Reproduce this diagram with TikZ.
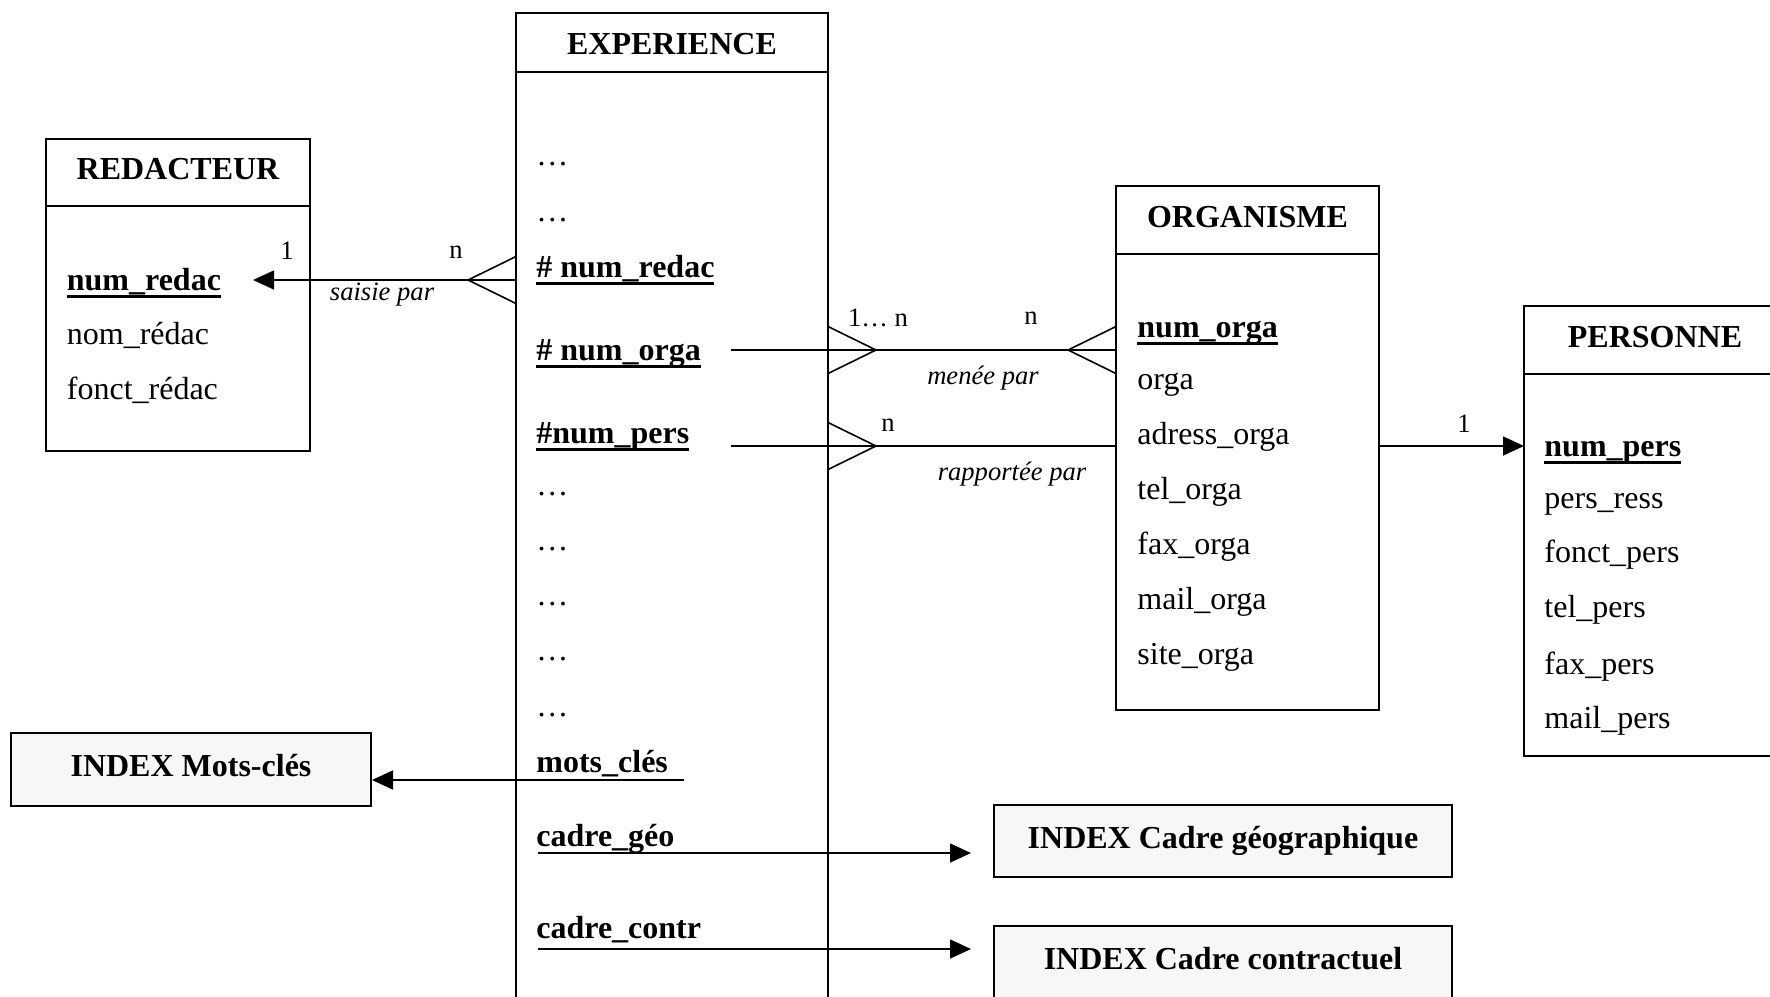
\documentclass[tikz,border=0pt]{standalone}
\usepackage{fontspec}
\setmainfont{Liberation Serif}
\usetikzlibrary{arrows.meta, positioning}
\definecolor{fondidx}{HTML}{F7F7F7}
% cle primaire / etrangere soulignee
\newcommand\cle[1]{\setbox0\hbox{#1}\rlap{\rule[-4pt]{\wd0}{1.4pt}}\box0}

\begin{document}
\begin{tikzpicture}[x=0.5pt, y=-0.5pt]
\tikzset{entete/.style={draw, line width=1pt, inner sep=0pt, outer sep=0pt, font=\fontsize{16}{19}\selectfont\bfseries, text height=11.2pt, text depth=4pt},
		corps/.style={draw, line width=1pt, inner sep=0pt, outer sep=0pt},
		champ/.style={anchor=west, inner sep=0pt, font=\fontsize{16}{19}\selectfont, text height=14.2pt, text depth=4pt},
		champcle/.style={champ, font=\fontsize{16}{19}\selectfont\bfseries},
		etiq/.style={inner sep=0pt, font=\fontsize{13.3}{16}\selectfont},
		etiqit/.style={inner sep=0pt, font=\fontsize{13.3}{16}\selectfont\itshape},
		idxbox/.style={draw, line width=1pt, fill=fondidx, inner sep=0pt, font=\fontsize{16}{19}\selectfont\bfseries, text height=11.2pt, text depth=4pt},
		lien/.style={line width=0.8pt},
		fleche/.style={line width=0.8pt, -{Triangle[length=10.5pt, width=9.5pt]}}}
\useasboundingbox (0,0) rectangle (1770,996);
\clip (0,0) rectangle (1770,996);

% entites
\node[entete, minimum width=132pt, minimum height=33.3pt] (redacH) at (178,172.3) {REDACTEUR};
\node[corps, minimum width=132pt, minimum height=122.5pt, below=0pt of redacH] (redacB) {};
\node[entete, minimum width=156pt, minimum height=29.2pt, text height=15.7pt] (expH) at (672,42.5) {EXPERIENCE};
\node[corps, minimum width=156pt, minimum height=470pt, below=0pt of expH] (expB) {};
\node[entete, minimum width=131.5pt, minimum height=34pt] (orgH) at (1247.5,220) {ORGANISME};
\node[corps, minimum width=131.5pt, minimum height=228pt, below=0pt of orgH] (orgB) {};
\node[entete, minimum width=131pt, minimum height=33.8pt] (persH) at (1655,339.8) {PERSONNE};
\node[corps, minimum width=131pt, minimum height=191.2pt, below=0pt of persH] (persB) {};

% index
\node[idxbox, minimum width=180pt, minimum height=36.5pt] (idxMots) at (191,769.5) {INDEX Mots-clés};
\node[idxbox, minimum width=229pt, minimum height=36pt] (idxGeo) at (1223,841) {INDEX Cadre géographique};
\node[idxbox, minimum width=229pt, minimum height=36pt] (idxContr) at (1223,962) {INDEX Cadre contractuel};

% attributs REDACTEUR
\node[champcle] (rNum) at (66.5,280) {\cle{num\_redac}};
\node[champ] (rNom) at (66.5,334) {nom\_rédac};
\node[champ] (rFonct) at (66.5,389) {fonct\_rédac};

% attributs EXPERIENCE
\foreach \y [count=\i] in {155,211,485,540,595,650,706}
	\node[champ] (eP\i) at (536,\y) {…};
\node[champcle] (eRedac) at (536,267) {\cle{\# num\_redac}};
\node[champcle] (eOrga) at (536,350) {\cle{\# num\_orga}};
\node[champcle] (ePers) at (536,433) {\cle{\#num\_pers}};
\node[champcle] (eMots) at (536,762) {mots\_clés};
\node[champcle] (eGeo) at (536,836) {cadre\_géo};
\node[champcle] (eContr) at (536,928) {cadre\_contr};

% attributs ORGANISME
\node[champcle] (oNum) at (1137,327) {\cle{num\_orga}};
\foreach \t/\y [count=\i] in {orga/379, adress\_orga/434, tel\_orga/489, fax\_orga/544, mail\_orga/599, site\_orga/654}
	\node[champ] (oA\i) at (1137,\y) {\t};

% attributs PERSONNE
\node[champcle] (pNum) at (1544,446) {\cle{num\_pers}};
\foreach \t/\y [count=\i] in {pers\_ress/498, fonct\_pers/552, tel\_pers/607, fax\_pers/664, mail\_pers/718}
	\node[champ] (pA\i) at (1544,\y) {\t};

% saisie par
\draw[fleche] (expB.west |- rNum) -- ([xshift=-28.5pt]redacB.east |- rNum);
\draw[lien] ([yshift=11.75pt]expB.west |- rNum) -- ([xshift=-24pt]expB.west |- rNum) -- ([yshift=-11.75pt]expB.west |- rNum);
\node[etiq] (cardR1) at (287,251) {1};
\node[etiq] (cardR2) at (456,252) {n};
\node[etiqit] (relSaisie) at (382,295) {saisie par};

% menee par
\draw[lien] ([xshift=-48.5pt]expB.east |- eOrga) -- (orgB.west |- eOrga);
\draw[lien] ([yshift=11.75pt]expB.east |- eOrga) -- ([xshift=24pt]expB.east |- eOrga) -- ([yshift=-11.75pt]expB.east |- eOrga);
\draw[lien] ([yshift=11.75pt]orgB.west |- eOrga) -- ([xshift=-24pt]orgB.west |- eOrga) -- ([yshift=-11.75pt]orgB.west |- eOrga);
\node[etiq] (cardO1) at (878,318) {1… n};
\node[etiq] (cardO2) at (1031,318) {n};
\node[etiqit] (relMenee) at (983,378) {menée par};

% rapportee par
\draw[lien] ([xshift=-48.5pt]expB.east |- pNum) -- (orgB.west |- pNum);
\draw[lien] ([yshift=11.75pt]expB.east |- pNum) -- ([xshift=24pt]expB.east |- pNum) -- ([yshift=-11.75pt]expB.east |- pNum);
\draw[fleche] (orgB.east |- pNum) -- (persB.west |- pNum);
\node[etiq] (cardP1) at (888,425) {n};
\node[etiq] (cardP2) at (1464,424) {1};
\node[etiqit] (relRapp) at (1012,474) {rapportée par};

% vers les index
\coordinate (motsFin) at (684,780);
\draw[fleche] (motsFin) -- (idxMots.east |- motsFin);
\coordinate (geoDeb) at (538,853);
\draw[fleche] (geoDeb) -- ([xshift=-11pt]idxGeo.west |- geoDeb);
\coordinate (contrDeb) at (538,949);
\draw[fleche] (contrDeb) -- ([xshift=-11pt]idxContr.west |- contrDeb);
\end{tikzpicture}
\end{document}
